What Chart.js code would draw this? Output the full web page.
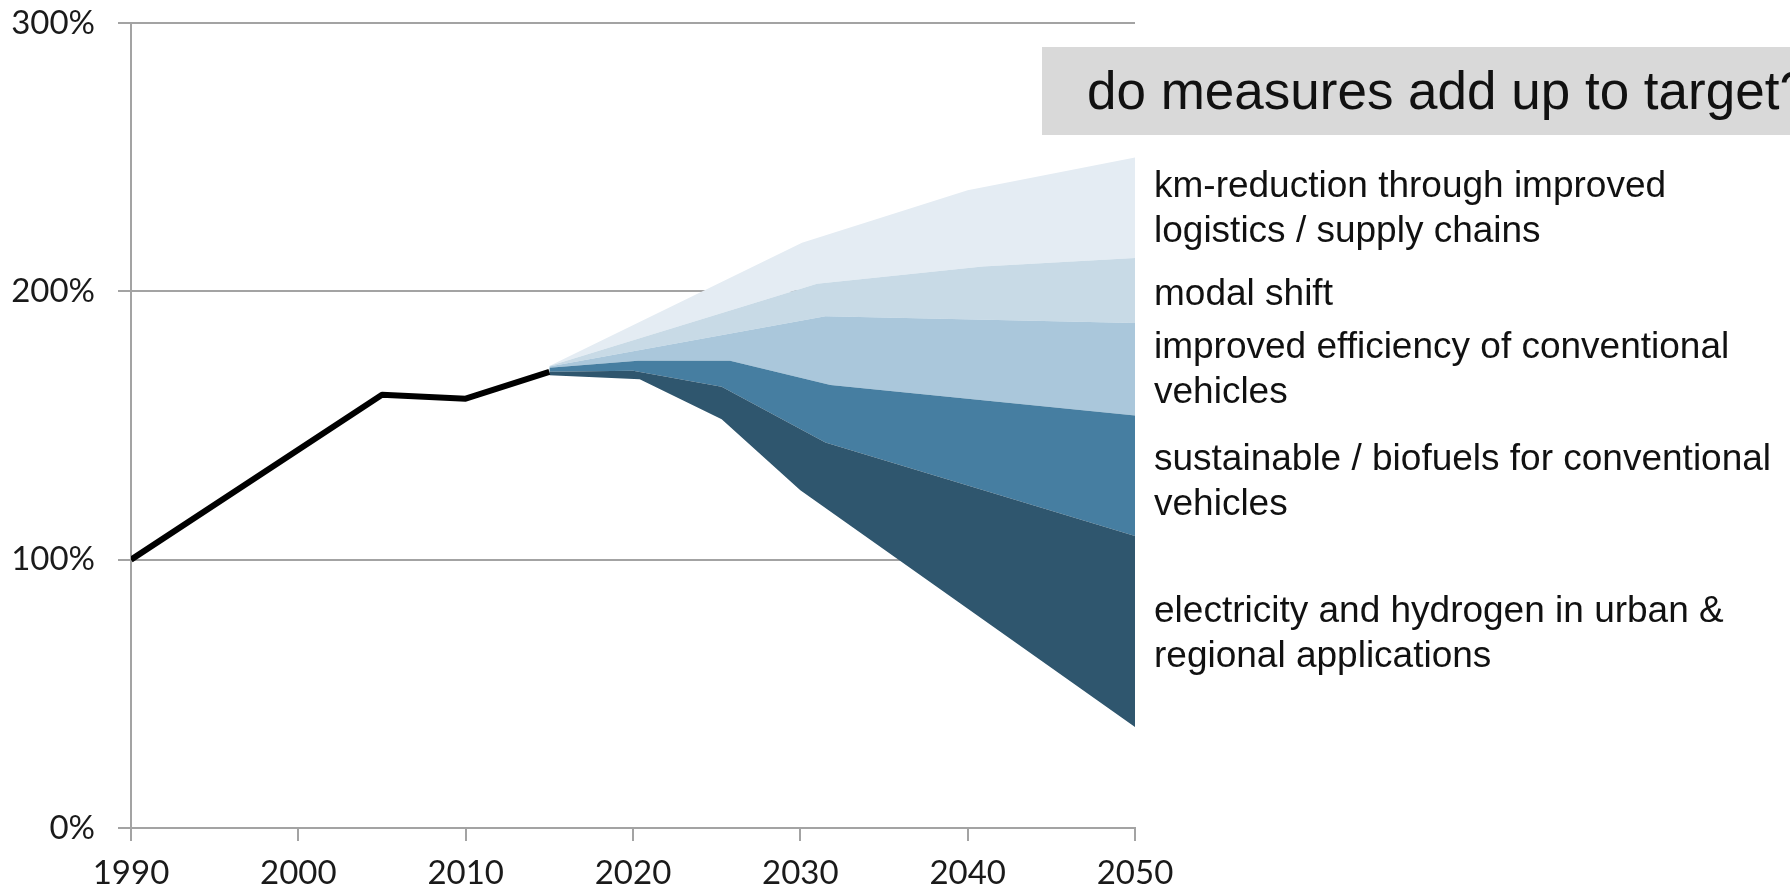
<!DOCTYPE html>
<html>
<head>
<meta charset="utf-8">
<script src="https://cdn.jsdelivr.net/npm/chart.js@4"></script>
<style>
  html, body { margin: 0; padding: 0; background: #fff; }
  #wrap { position: relative; width: 1790px; height: 891px; overflow: hidden; }
  #chart { position: absolute; left: 0; top: 0; }
  .question {
    position: absolute; left: 1042px; top: 47px; width: 800px; height: 88px;
    background: #d9d9d9; font-family: "Liberation Sans", Arial, sans-serif;
    font-size: 53px; line-height: 88px; color: #111; white-space: nowrap;
    padding-left: 45px; box-sizing: border-box;
  }
  .measure {
    position: absolute; left: 1154px; font-family: "Liberation Sans", Arial, sans-serif;
    font-size: 37px; line-height: 45px; color: #111; white-space: nowrap;
  }
</style>
</head>
<body>
<div id="wrap">
  <canvas id="chart" width="1790" height="891"></canvas>
  <div class="question">do measures add up to target?</div>
  <div class="measure" style="top:162px">km-reduction through improved<br>logistics / supply chains</div>
  <div class="measure" style="top:270px">modal shift</div>
  <div class="measure" style="top:323px">improved efficiency of conventional<br>vehicles</div>
  <div class="measure" style="top:435px">sustainable / biofuels for conventional<br>vehicles</div>
  <div class="measure" style="top:587px">electricity and hydrogen in urban &amp;<br>regional applications</div>
</div>
<script>
// emissions index, 1990 = 100%
const historyYears = [1990, 2005, 2010, 2015];
const historyValues = [100, 161.5, 160, 170];

// band edges, bottom to top
const targetYears = [2015, 2020.4, 2025.3, 2030, 2050];
const targetValues = [168.7, 167.2, 152.3, 125.9, 37.6];

const electricityYears = [2015, 2020, 2025.3, 2031.5, 2050];
const electricityValues = [170, 170.4, 164.4, 143.7, 108.8];

const biofuelYears = [2015, 2020.3, 2025.8, 2031.8, 2050];
const biofuelValues = [171.5, 174.1, 174.1, 165.1, 153.7];

const efficiencyYears = [2015, 2031.5, 2050];
const efficiencyValues = [172, 190.7, 188.2];

const modalYears = [2015, 2031, 2040.9, 2050];
const modalValues = [172.2, 202.8, 209.3, 212.4];

const logisticsYears = [2015, 2030.1, 2040, 2050];
const logisticsValues = [172.2, 218.1, 237.7, 249.9];

const yearTicks = [1990, 2000, 2010, 2020, 2030, 2040, 2050];
const pctTicks = [0, 100, 200, 300];

const pts = (xs, ys) => xs.map((x, i) => ({ x, y: ys[i] }));
const GRID = '#a3a3a3';

function band(xs, ys, color) {
  return { data: pts(xs, ys), borderWidth: 0, pointRadius: 0, backgroundColor: color, fill: '-1', tension: 0 };
}

new Chart(document.getElementById('chart'), {
  type: 'line',
  data: {
    datasets: [
      { data: pts(historyYears, historyValues), borderColor: '#000', borderWidth: 6, pointRadius: 0, fill: false, borderJoinStyle: 'round' },
      { data: pts(targetYears, targetValues), borderWidth: 0, pointRadius: 0, fill: false },
      band(electricityYears, electricityValues, '#2f566e'),
      band(biofuelYears, biofuelValues, '#467ea1'),
      band(efficiencyYears, efficiencyValues, '#aac7db'),
      band(modalYears, modalValues, '#c8dae6'),
      band(logisticsYears, logisticsValues, '#e4ecf3')
    ]
  },
  options: {
    responsive: false,
    animation: false,
    layout: { padding: { top: 23, right: 655, left: 0, bottom: 0 } },
    plugins: { legend: { display: false }, tooltip: { enabled: false } },
    scales: {
      x: {
        type: 'linear', min: 1990, max: 2050,
        afterBuildTicks: s => { s.ticks = yearTicks.map(v => ({ value: v })); },
        afterFit: s => { s.height = 63; s.paddingLeft = 0; s.paddingRight = 0; },
        ticks: { callback: v => String(v), color: '#1a1a1a', padding: 13, font: { family: 'Lato', size: 33 } },
        grid: { drawOnChartArea: false, color: GRID, lineWidth: 2, tickLength: 13 },
        border: { color: GRID, width: 2 }
      },
      y: {
        min: 0, max: 300,
        afterBuildTicks: s => { s.ticks = pctTicks.map(v => ({ value: v })); },
        afterFit: s => { s.width = 131; s.paddingTop = 0; s.paddingBottom = 0; },
        ticks: { callback: v => v + '%', color: '#1a1a1a', padding: 23, font: { family: 'Lato', size: 33 } },
        grid: { color: GRID, lineWidth: 2, tickLength: 13 },
        border: { color: GRID, width: 2 }
      }
    }
  }
});
</script>
</body>
</html>
